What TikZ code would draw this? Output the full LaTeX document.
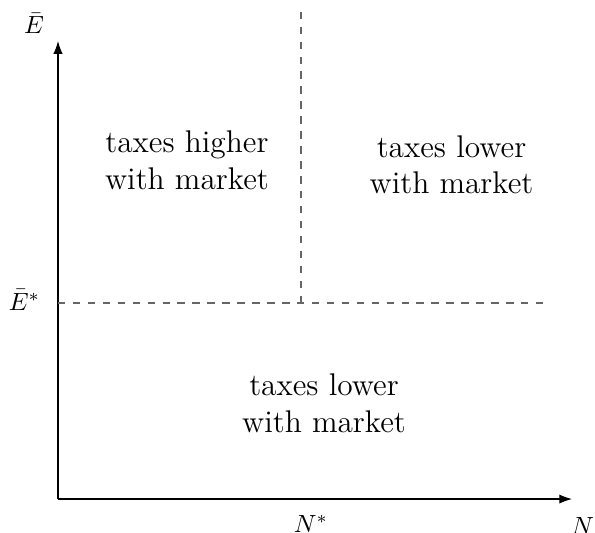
\documentclass[tikz,border=0pt]{standalone}
\usepackage{amsmath}
\usetikzlibrary{arrows.meta,positioning}

\begin{document}
\begin{tikzpicture}[
    every node/.style={align=center},
    axis/.style={-{Latex[length=1.8mm,width=1.3mm]}, line width=0.45pt, draw=black},
    guide/.style={dashed, draw=black!60, line width=0.5pt},
    axislabel/.style={inner sep=0.5pt},
    regionlabel/.style={font=\fontsize{12.6}{14.8}\selectfont, align=center}
]
\useasboundingbox (-0.819,-0.466) rectangle (7.582,7.046);

% Axes
\coordinate (origin) at (0,0);
\coordinate (xend) at (7.258,0);
\coordinate (yend) at (0,6.467);
\draw[axis] (origin) -- (xend);
\draw[axis] (origin) -- (yend);

% Axis labels
\node[axislabel] (ebar) at (-0.339,6.714) {$\bar{E}$};
\node[axislabel] (nlab) at (7.41,-0.38) {$N$};
\node[axislabel] (estar) at (-0.473,2.81) {$\bar{E}^{*}$};
\node[axislabel] (nstar) at (3.572,-0.35) {$N^{*}$};

% Threshold lines
\coordinate (ecut) at (0,2.768);
\coordinate (eend) at (6.919,2.768);
\coordinate (ncut) at (3.431,2.768);
\coordinate (ntop) at (3.431,6.905);
\draw[guide] (ecut) -- (eend);
\draw[guide] (ncut) -- (ntop);

% Regions
\node[regionlabel] (upleft) at (1.821,4.787) {taxes higher\\with market};
\node[regionlabel] (upright) at (5.556,4.72) {taxes lower\\with market};
\node[regionlabel] (low) at (3.756,1.351) {taxes lower\\with market};

\end{tikzpicture}
\end{document}
